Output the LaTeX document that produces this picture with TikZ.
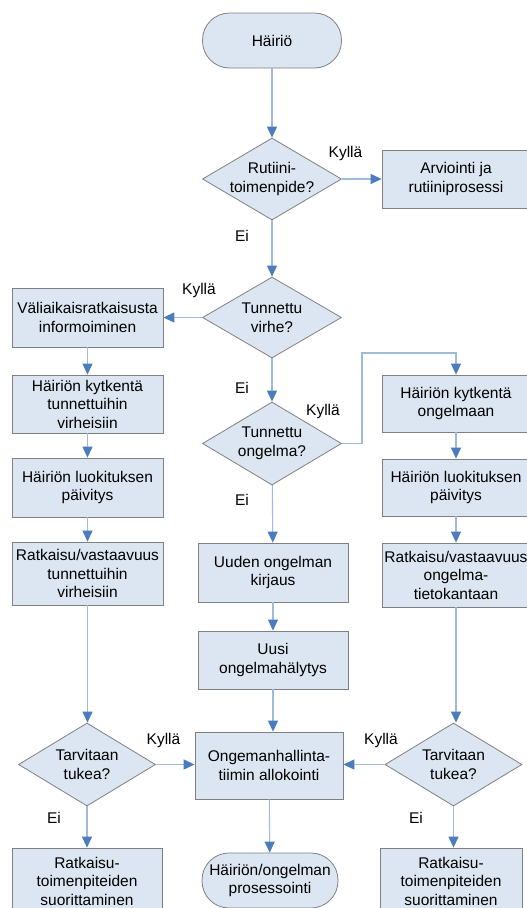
\documentclass[tikz,border=0pt]{standalone}
\usepackage{fontspec}
\setmainfont{Liberation Sans}
\usetikzlibrary{shapes.geometric,arrows.meta}
\definecolor{boxfill}{RGB}{220,230,242}
\definecolor{boxdraw}{RGB}{128,128,128}
\definecolor{linkcol}{RGB}{160,186,218}
\definecolor{tipcol}{RGB}{75,125,190}

\begin{document}
\begin{tikzpicture}[x=1pt,y=-1pt,
  font=\fontsize{15.5}{18.5}\selectfont,
  base/.style={draw=boxdraw,fill=boxfill,line width=0.8pt,inner sep=0pt,align=center},
  procbox/.style={base,rectangle},
  term/.style={base,rectangle,rounded corners=27pt,minimum width=139pt,minimum height=55pt},
  decision/.style={base,diamond,minimum width=139pt,minimum height=82pt},
  ask/.style={label={[align=center]center:#1}},
  flow/.style={draw=linkcol,line width=1.1pt,-{Triangle[length=11pt,width=10pt,color=tipcol]}},
  answer/.style={inner sep=0pt}
]
\useasboundingbox (0,0) rectangle (527,908);
\clip (0,0) rectangle (527,908);
\fill[white] (0,0) rectangle (527,908);

% main column
\node[term] (start) at (272,40.5) {Häiriö};
\node[decision,ask={Rutiini-\\toimenpide?}] (d1) at (272,179) {};
\node[procbox,minimum width=148pt,minimum height=58pt] (arv) at (456,179) {Arviointi ja\\rutiiniprosessi};
\node[decision,minimum height=81pt,ask={Tunnettu\\virhe?}] (d2) at (272,317.5) {};
\node[decision,minimum height=83pt,ask={Tunnettu\\ongelma?}] (d3) at (272,443.5) {};
\node[procbox,minimum width=150pt,minimum height=59pt] (new) at (273,572.5) {Uuden ongelman\\kirjaus};
\node[procbox,minimum width=150pt,minimum height=58pt] (alert) at (273,660) {Uusi\\ongelmahälytys};
\node[procbox,minimum width=148pt,minimum height=67pt] (alloc) at (269,765.5) {Ongemanhallinta-\\tiimin allokointi};
\node[term,minimum width=136pt] (end) at (270,880.5) {Häiriön/ongelman\\prosessointi};

% left column: known errors
\node[procbox,minimum width=151pt,minimum height=59pt] (l1) at (87.5,317.5) {Väliaikaisratkaisusta\\informoiminen};
\node[procbox,minimum width=151pt,minimum height=58pt] (l2) at (87.5,404) {Häiriön kytkentä\\tunnettuihin\\virheisiin};
\node[procbox,minimum width=151pt,minimum height=59pt] (l3) at (87.5,487.5) {Häiriön luokituksen\\päivitys};
\node[procbox,minimum width=151pt,minimum height=63pt] (l4) at (87.5,573.5) {Ratkaisu/vastaavuus\\tunnettuihin\\virheisiin};
\node[decision,minimum width=137pt,minimum height=83pt,ask={Tarvitaan\\tukea?}] (dl) at (87,764.5) {};
\node[procbox,minimum width=150pt,minimum height=66pt] (bl) at (87,881) {Ratkaisu-\\toimenpiteiden\\suorittaminen};

% right column: known problems
\node[procbox,minimum width=148pt,minimum height=57pt] (r1) at (456,403.5) {Häiriön kytkentä\\ongelmaan};
\node[procbox,minimum width=148pt,minimum height=57pt] (r2) at (456,487.5) {Häiriön luokituksen\\päivitys};
\node[procbox,minimum width=148pt,minimum height=64pt] (r3) at (456,575) {Ratkaisu/vastaavuus\\ongelma-\\tietokantaan};
\node[decision,minimum width=137pt,minimum height=83pt,ask={Tarvitaan\\tukea?}] (dr) at (453.5,764.5) {};
\node[procbox,minimum width=142pt,minimum height=66pt] (br) at (451,881) {Ratkaisu-\\toimenpiteiden\\suorittaminen};

\coordinate (bend) at (362,353);

% connectors
\draw[flow] (start) -- (d1);
\draw[flow] (d1) -- (arv);
\draw[flow] (d1) -- (d2);
\draw[flow] (d2) -- (l1);
\draw[flow] (d2) -- (d3);
\draw[flow] (d3) -- (new);
\draw[flow] (new) -- (alert);
\draw[flow] (alert.south) -- (alert.south |- alloc.north);
\draw[flow] (alloc) -- (end);
\draw[flow] (l1) -- (l2);
\draw[flow] (l2) -- (l3);
\draw[flow] (l3) -- (l4);
\draw[flow] (l4.south) -- (l4.south |- dl.north);
\draw[flow] (dl) -- (bl);
\draw[flow] (dl.east) -- (dl.east -| alloc.west);
\draw[flow] (d3.east) -- (bend |- d3.east) -- (bend) -| (r1.north);
\draw[flow] (r1) -- (r2);
\draw[flow] (r2) -- (r3);
\draw[flow] (r3.south) -- (r3.south |- dr.north);
\draw[flow] (dr) -- (dr.south |- br.north);
\draw[flow] (dr.west) -- (dr.west -| alloc.east);

% branch labels
\node[answer] (y1) at (345.5,153) {Kyllä};
\node[answer] (n1) at (242,236) {Ei};
\node[answer] (y2) at (199,290) {Kyllä};
\node[answer] (n2) at (242,388) {Ei};
\node[answer] (y3) at (323,411) {Kyllä};
\node[answer] (n3) at (242,500) {Ei};
\node[answer] (y4) at (163.5,740) {Kyllä};
\node[answer] (y5) at (381,740) {Kyllä};
\node[answer] (n4) at (54,818) {Ei};
\node[answer] (n5) at (416,818) {Ei};
\end{tikzpicture}
\end{document}
